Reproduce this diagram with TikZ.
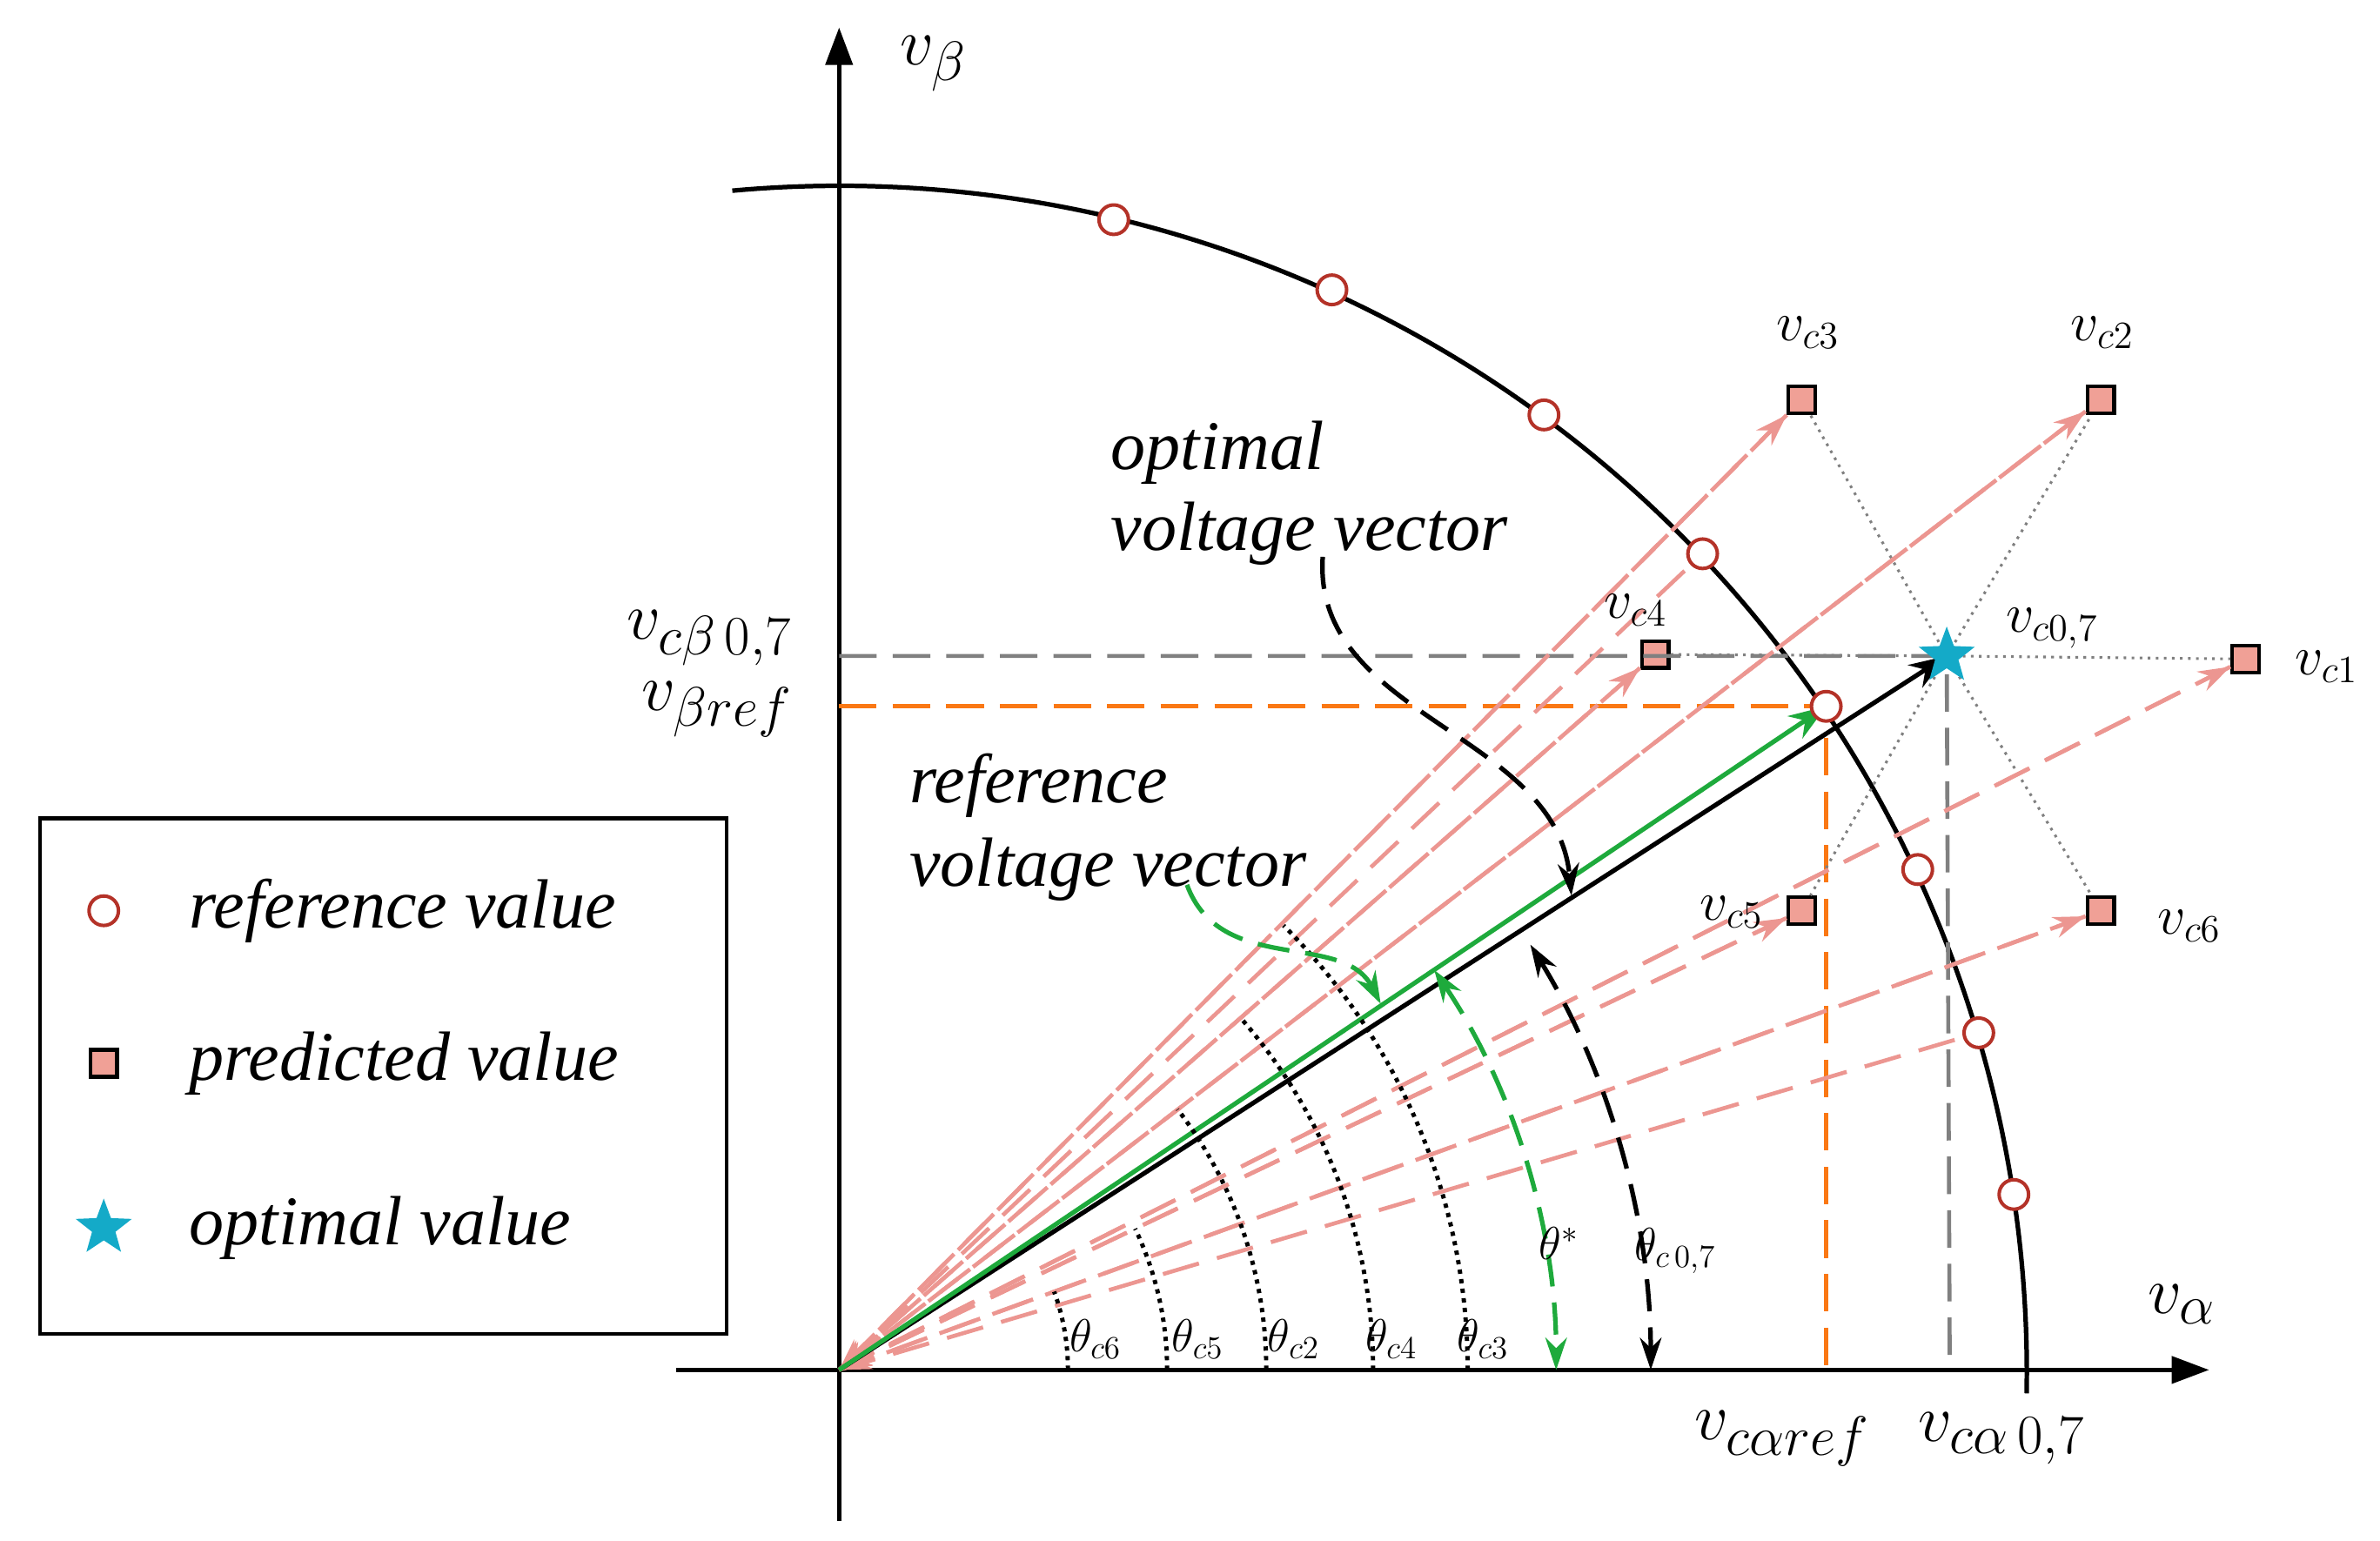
\documentclass[tikz,border=0pt]{standalone}
\usepackage{fontspec}
\setmainfont{Liberation Serif}
\usetikzlibrary{arrows.meta,shapes.geometric}
\definecolor{pk}{RGB}{236,150,145}
\definecolor{cr}{RGB}{180,50,40}
\definecolor{gr}{RGB}{30,170,60}
\definecolor{org}{RGB}{250,120,20}
\definecolor{sb}{RGB}{20,170,200}
\definecolor{sq}{RGB}{240,160,150}
\begin{document}
\begin{tikzpicture}[x=0.02cm,y=-0.02cm,
 axis/.style={line width=1.7pt,-{Triangle[length=14pt,width=10pt]}},
 refpt/.style={circle,draw=cr,fill=white,line width=1.3pt,minimum size=11pt,inner sep=0},
 pred/.style={rectangle,draw=black,fill=sq,line width=1.4pt,minimum size=10pt,inner sep=0},
 pdash/.style={pk,line width=1.5pt,dash pattern=on 14pt off 7pt,-{Stealth[length=12pt,width=8pt]}},
 gdot/.style={gray,line width=1pt,dotted},
 strs/.style={star,star points=5,star point ratio=2.4,fill=sb,minimum size=22pt,inner sep=0},
 lbl/.style={font=\fontsize{22}{24}\selectfont\itshape,inner sep=1pt},
 sl/.style={font=\fontsize{18}{20}\selectfont\itshape,inner sep=1pt},
 leg/.style={font=\fontsize{26}{28}\selectfont\itshape,anchor=west}]
\useasboundingbox (0,0) rectangle (1560,1010);
\coordinate (O) at (550,898);
\draw[line width=1.7pt] (480,125) arc[start angle=95.2,end angle=-1,radius=778*0.02cm];
\coordinate (xs) at (443,898); \coordinate (xe) at (1448,898);
\coordinate (ys) at (550,997); \coordinate (ye) at (550,18);
\draw[axis] (xs) -- (xe);
\draw[axis] (ys) -- (ye);
\node[pred] (c3) at (1181,262) {};
\node[pred] (c2) at (1377,262) {};
\node[pred] (c4) at (1085,429) {};
\node[pred] (c1) at (1472,432) {};
\node[pred] (c5) at (1181,597) {};
\node[pred] (c6) at (1377,597) {};
\coordinate (st) at (1276,430);
\coordinate (rv) at (1197,463);
\draw[gray,line width=1.5pt,dash pattern=on 14pt off 6pt] (550,430) -- (st) -- (1278,898);
\draw[org,line width=1.5pt,dash pattern=on 14pt off 6pt] (550,463) -- (rv) -- (1197,898);
\foreach \s in {c3,c2,c4,c1,c5,c6} \draw[gdot] (st) -- (\s);
\foreach \s in {c3,c2,c4,c1,c5,c6} \draw[pdash] (\s) -- (O);
\foreach \s in {c3,c2,c4,c1,c5,c6} \draw[pdash] (O) -- (\s);
\draw[pk,line width=1.5pt,dash pattern=on 14pt off 7pt] (O) -- (1297,677);
\draw[pk,line width=1.5pt,dash pattern=on 14pt off 7pt] (O) -- (1116,363);
\foreach \p in {(730,144),(873,190),(1012,272),(1116,363),(1257,570),(1297,677),(1320,783)} \node[refpt] at \p {};
\draw[line width=1.7pt,-{Stealth[length=14pt,width=10pt]}] (O) -- (st);
\draw[gr,line width=1.7pt,-{Stealth[length=14pt,width=10pt]}] (O) -- (rv);
\node[refpt] (rp) at (rv) {};
\node[strs] (sn) at (st) {};
\draw[line width=1.6pt,dotted] (700,898) arc[start angle=0,end angle=20,radius=150*0.02cm];
\draw[line width=1.6pt,dotted] (765,898) arc[start angle=0,end angle=25.5,radius=215*0.02cm];
\draw[line width=1.6pt,dotted] (830,898) arc[start angle=0,end angle=37.6,radius=280*0.02cm];
\draw[line width=1.6pt,dotted] (900,898) arc[start angle=0,end angle=41,radius=350*0.02cm];
\draw[line width=1.6pt,dotted] (962,898) arc[start angle=0,end angle=45,radius=412*0.02cm];
\draw[gr,line width=1.7pt,dash pattern=on 12pt off 6pt,{Stealth[length=12pt,width=8pt]}-{Stealth[length=12pt,width=8pt]}] (550,898) ++(33.9:470*0.02cm) arc[start angle=33.9,end angle=0,radius=470*0.02cm];
\draw[line width=1.7pt,dash pattern=on 12pt off 6pt,{Stealth[length=12pt,width=8pt]}-{Stealth[length=12pt,width=8pt]}] (550,898) ++(31.6:532*0.02cm) arc[start angle=31.6,end angle=0,radius=532*0.02cm];
\coordinate (a1) at (867,365); \coordinate (a2) at (1030,587);
\draw[line width=1.7pt,dash pattern=on 12pt off 6pt,-{Stealth[length=12pt,width=8pt]}] (a1) .. controls (860,470) and (1020,480) .. (a2);
\coordinate (g1) at (778,580); \coordinate (g2) at (905,658);
\draw[gr,line width=1.7pt,dash pattern=on 12pt off 6pt,-{Stealth[length=12pt,width=8pt]}] (g1) .. controls (800,640) and (880,610) .. (g2);
\node[lbl,font=\fontsize{30}{32}\selectfont\itshape] at (612,42) {$v_\beta$};
\node[lbl,font=\fontsize{30}{32}\selectfont\itshape] at (1430,855) {$v_\alpha$};
\node[lbl,font=\fontsize{28}{30}\selectfont] at (465,418) {$v_{c\beta\,0,7}$};
\node[lbl,font=\fontsize{28}{30}\selectfont] at (470,465) {$v_{\beta ref}$};
\node[lbl,font=\fontsize{28}{30}\selectfont] at (1168,943) {$v_{c\alpha ref}$};
\node[lbl,font=\fontsize{28}{30}\selectfont] at (1312,943) {$v_{c\alpha\,0,7}$};
\node[lbl] at (1185,218) {$v_{c3}$};
\node[lbl] at (1378,218) {$v_{c2}$};
\node[lbl] at (1072,400) {$v_{c4}$};
\node[lbl] at (1525,437) {$v_{c1}$};
\node[lbl] at (1135,598) {$v_{c5}$};
\node[lbl] at (1435,607) {$v_{c6}$};
\node[lbl] at (1345,412) {$v_{c0,7}$};
\node[leg] at (722,297) {optimal};
\node[leg] at (722,350) {voltage vector};
\node[leg] at (590,515) {reference};
\node[leg] at (590,570) {voltage vector};
\node[sl] at (718,878) {$\theta_{c6}$};
\node[sl] at (785,878) {$\theta_{c5}$};
\node[sl] at (848,878) {$\theta_{c2}$};
\node[sl] at (912,878) {$\theta_{c4}$};
\node[sl] at (972,878) {$\theta_{c3}$};
\node[sl] at (1022,815) {$\theta^{*}$};
\node[sl] at (1098,820) {$\theta_{c\,0,7}$};
\node[draw,line width=1.5pt,minimum width=450*0.02cm,minimum height=338*0.02cm,anchor=north west,inner sep=0] (lg) at (25,535) {};
\node[refpt] (l1) at (68,597) {};
\node[pred] (l2) at (68,697) {};
\node[strs] (l3) at (68,805) {};
\node[leg] at (118,597) {reference value};
\node[leg] at (118,697) {predicted value};
\node[leg] at (118,805) {optimal value};
\end{tikzpicture}
\end{document}
